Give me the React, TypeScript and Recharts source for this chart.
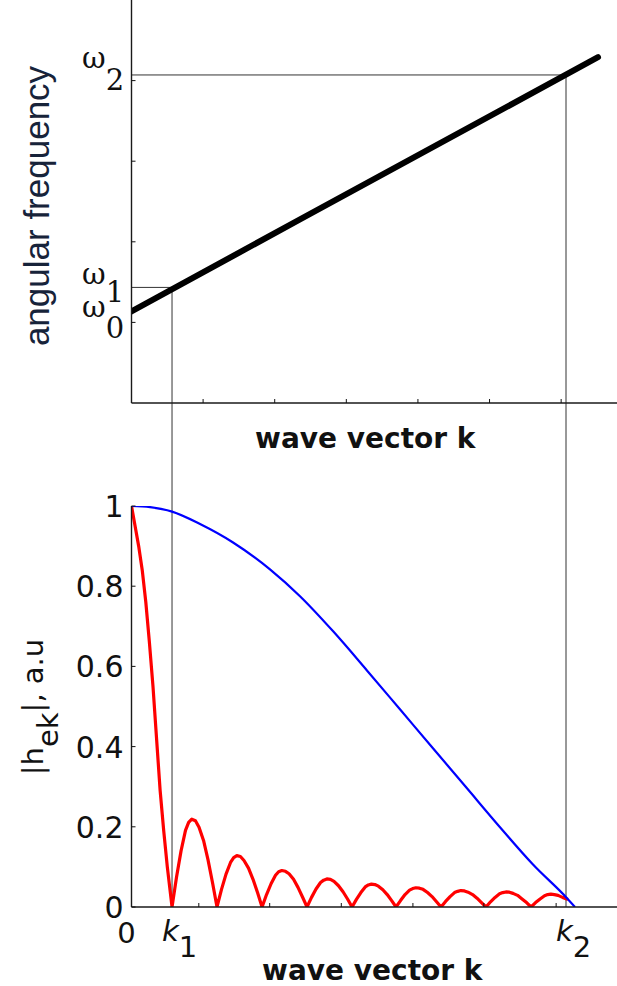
import { LineChart, Line, XAxis, YAxis, ReferenceLine, Label } from "recharts"

// upper panel: dispersion relation omega(k)
const dispersionK = [0, 2.353, 6.515]
const dispersionW = [0.136, 1.278, 3.29]

// marked wave vectors and frequencies
const K1 = 0.566
const K2 = 6.068
const OMEGA0 = 0.136
const OMEGA1 = 0.434
const OMEGA2 = 3.07

// lower panel, blue: |h_ek| for the long pulse
const blueK = [0, 0.26, 0.566, 0.957, 1.418, 1.934, 2.353, 2.813, 3.288, 3.749, 4.21, 4.685, 5.146, 5.607, 6.082, 6.193]
const blueH = [1.0, 0.997, 0.986, 0.955, 0.909, 0.842, 0.775, 0.688, 0.59, 0.493, 0.396, 0.296, 0.199, 0.106, 0.022, 0]

// lower panel, red: |h_ek| for the short pulse (main lobe + side lobes)
const redK = [
  0, 0.05, 0.1, 0.15, 0.2, 0.25, 0.3, 0.35, 0.4, 0.45, 0.5, 0.566,
  0.629, 0.692, 0.754, 0.798, 0.842, 0.893, 0.943, 1.006, 1.068, 1.131, 1.194,
  1.257, 1.32, 1.383, 1.427, 1.471, 1.521, 1.571, 1.634, 1.697, 1.76, 1.823,
  1.886, 1.949, 2.011, 2.055, 2.099, 2.15, 2.2, 2.263, 2.325, 2.388, 2.451,
  2.514, 2.577, 2.64, 2.684, 2.728, 2.778, 2.828, 2.891, 2.954, 3.017, 3.08,
  3.141, 3.203, 3.264, 3.307, 3.35, 3.399, 3.448, 3.51, 3.571, 3.633, 3.694,
  3.757, 3.82, 3.883, 3.927, 3.971, 4.021, 4.071, 4.134, 4.197, 4.26, 4.323,
  4.386, 4.449, 4.511, 4.555, 4.599, 4.65, 4.7, 4.763, 4.825, 4.888, 4.951,
  5.014, 5.077, 5.14, 5.184, 5.228, 5.278, 5.328, 5.391, 5.454, 5.517, 5.58,
  5.643, 5.706, 5.768, 5.812, 5.856, 5.906, 5.957, 6.02, 6.096,
]
const redH = [
  1.0, 0.95, 0.9, 0.84, 0.76, 0.66, 0.55, 0.42, 0.29, 0.19, 0.1, 0,
  0.075, 0.14, 0.191, 0.211, 0.219, 0.215, 0.199, 0.166, 0.118, 0.061, 0,
  0.044, 0.082, 0.111, 0.123, 0.128, 0.126, 0.116, 0.097, 0.069, 0.036, 0,
  0.031, 0.058, 0.079, 0.088, 0.091, 0.089, 0.083, 0.069, 0.049, 0.025, 0,
  0.024, 0.045, 0.061, 0.067, 0.07, 0.069, 0.064, 0.053, 0.038, 0.02, 0,
  0.019, 0.036, 0.05, 0.055, 0.057, 0.056, 0.052, 0.043, 0.031, 0.016, 0,
  0.016, 0.031, 0.042, 0.046, 0.048, 0.047, 0.044, 0.036, 0.026, 0.013, 0,
  0.014, 0.026, 0.036, 0.039, 0.041, 0.04, 0.037, 0.031, 0.022, 0.011, 0,
  0.013, 0.024, 0.033, 0.036, 0.0375, 0.037, 0.034, 0.029, 0.02, 0.011, 0,
  0.011, 0.02, 0.028, 0.031, 0.032, 0.031, 0.029, 0.024, 0.019,
]

const topTicksX = [1, 2, 3, 4, 5, 6]
const topTicksY = [0, 1, 2, 3]
const bottomTicksX = [0, 0.94, 1.93, 2.93, 3.93, 4.92, 5.93]
const bottomTicksY = [0, 0.2, 0.4, 0.6, 0.8, 1]

const dispersion = dispersionK.map((k, i) => ({ k, w: dispersionW[i] }))
const blue = blueK.map((k, i) => ({ k, h: blueH[i] }))
const red = redK.map((k, i) => ({ k, h: redH[i] }))

const INK = "#111"
const SANS = "'DejaVu Sans', sans-serif"
const SERIF = "'DejaVu Serif', serif"
const X_DOMAIN: [number, number] = [0, 6.78]
const axisLine = { stroke: "#1a1a1a", strokeWidth: 1.4 }

const MarkUp = ({ x, y }: any) => <line x1={x} y1={y} x2={x} y2={y - 4} stroke={INK} strokeWidth={1} />
const MarkDown = ({ x, y }: any) => <line x1={x} y1={y} x2={x} y2={y + 4} stroke={INK} strokeWidth={1} />
const MarkRight = ({ x, y }: any) => <line x1={x} y1={y} x2={x + 4} y2={y} stroke={INK} strokeWidth={1} />

const ValueTick = ({ x, y, payload }: any) => (
  <g>
    <line x1={x} y1={y} x2={x + 4} y2={y} stroke={INK} strokeWidth={1} />
    <text x={x - 8} y={y + 11} textAnchor="end" fontFamily={SANS} fontSize={30} fill={INK}>
      {String(payload.value)}
    </text>
  </g>
)

const KTick = ({ x, y, payload }: any) =>
  payload.value === 0 ? (
    <text x={x - 5} y={y + 36} textAnchor="middle" fontFamily={SANS} fontSize={29} fill={INK}>
      0
    </text>
  ) : (
    <MarkUp x={x} y={y} />
  )

const OmegaLabel = ({ viewBox, sub, dy, subDy }: any) => (
  <text x={82} y={viewBox.y + dy} fontFamily={SERIF} fontSize={29} fill={INK}>
    ω<tspan dy={subDy}>{sub}</tspan>
  </text>
)

const KLabel = ({ viewBox, sub }: any) => (
  <text x={viewBox.x - 10} y={viewBox.y + viewBox.height + 34} fontFamily={SANS} fontSize={29} fill={INK}>
    <tspan fontStyle="italic">k</tspan>
    <tspan dy={16}>{sub}</tspan>
  </text>
)

const AxisTitle = ({ viewBox, dx, dy }: any) => (
  <text
    x={viewBox.x + viewBox.width / 2 + dx}
    y={viewBox.y + dy}
    textAnchor="middle"
    fontFamily={SANS}
    fontWeight="bold"
    fontSize={28}
    fill={INK}
  >
    wave vector k
  </text>
)

export default function App() {
  return (
    <div style={{ position: "absolute", left: 0, top: 0, width: 617, height: 986, background: "#fff" }}>
      <LineChart width={617} height={470} margin={{ top: 0, right: 0, bottom: 0, left: 0.5 }} style={{ overflow: "hidden" }}>
        <XAxis
          type="number"
          dataKey="k"
          domain={X_DOMAIN}
          allowDataOverflow
          ticks={topTicksX}
          interval={0}
          height={67}
          tickSize={0}
          tickMargin={0}
          tick={MarkUp}
          axisLine={axisLine}
          tickLine={false}
        >
          <Label content={(p: any) => <AxisTitle {...p} dx={-9} dy={45} />} />
        </XAxis>
        <YAxis
          type="number"
          domain={[-1, 4]}
          allowDataOverflow
          ticks={topTicksY}
          interval={0}
          width={131}
          tickSize={0}
          tickMargin={0}
          tick={MarkRight}
          axisLine={axisLine}
          tickLine={false}
        >
          <Label
            content={() => (
              <text
                transform="translate(49,206) rotate(-90)"
                textAnchor="middle"
                fontFamily="'Liberation Sans', Arial, sans-serif"
                fontSize={35}
                fill="#17233a"
              >
                angular frequency
              </text>
            )}
          />
        </YAxis>
        <ReferenceLine
          segment={[{ x: 0, y: OMEGA2 }, { x: K2, y: OMEGA2 }]}
          stroke="#333"
          strokeWidth={1}
          ifOverflow="visible"
          label={(p: any) => <OmegaLabel {...p} sub="2" dy={-7} subDy={22} />}
        />
        <ReferenceLine
          segment={[{ x: 0, y: OMEGA1 }, { x: K1, y: OMEGA1 }]}
          stroke="#333"
          strokeWidth={1}
          ifOverflow="visible"
          label={(p: any) => <OmegaLabel {...p} sub="1" dy={-3} subDy={18} />}
        />
        <ReferenceLine
          y={OMEGA0}
          stroke="none"
          ifOverflow="visible"
          label={(p: any) => <OmegaLabel {...p} sub="0" dy={6} subDy={21} />}
        />
        <ReferenceLine segment={[{ x: K1, y: OMEGA1 }, { x: K1, y: -1.84 }]} stroke="#333" strokeWidth={1} ifOverflow="visible" />
        <ReferenceLine segment={[{ x: K2, y: OMEGA2 }, { x: K2, y: -1.84 }]} stroke="#333" strokeWidth={1} ifOverflow="visible" />
        <Line
          data={dispersion}
          dataKey="w"
          type="linear"
          stroke="#000"
          strokeWidth={6}
          strokeLinecap="round"
          dot={false}
          activeDot={false}
          isAnimationActive={false}
        />
      </LineChart>

      <LineChart width={617} height={516} margin={{ top: 36, right: 0, bottom: 0, left: 0.5 }} style={{ overflow: "hidden" }}>
        <XAxis
          type="number"
          dataKey="k"
          domain={X_DOMAIN}
          allowDataOverflow
          ticks={bottomTicksX}
          interval={0}
          height={79}
          tickSize={0}
          tickMargin={0}
          tick={KTick}
          axisLine={axisLine}
          tickLine={false}
        >
          <Label content={(p: any) => <AxisTitle {...p} dx={-2} dy={73} />} />
        </XAxis>
        <XAxis
          xAxisId="top"
          orientation="top"
          type="number"
          dataKey="k"
          domain={X_DOMAIN}
          allowDataOverflow
          ticks={bottomTicksX.slice(1)}
          interval={0}
          height={0}
          tickSize={0}
          tickMargin={0}
          tick={MarkDown}
          axisLine={axisLine}
          tickLine={false}
        />
        <YAxis
          type="number"
          domain={[0, 1]}
          allowDataOverflow
          ticks={bottomTicksY}
          interval={0}
          width={131}
          tickSize={0}
          tickMargin={0}
          tick={ValueTick}
          axisLine={axisLine}
          tickLine={false}
        >
          <Label
            content={() => (
              <text transform="translate(43,237) rotate(-90)" textAnchor="middle" fontFamily={SANS} fontSize={29} fill={INK}>
                |h<tspan dy={15}>ek</tspan>
                <tspan dy={-15}>|, a.u</tspan>
              </text>
            )}
          />
        </YAxis>
        <ReferenceLine
          segment={[{ x: K1, y: 1.1 }, { x: K1, y: 0 }]}
          stroke="#333"
          strokeWidth={1}
          ifOverflow="visible"
          label={(p: any) => <KLabel {...p} sub="1" />}
        />
        <ReferenceLine
          segment={[{ x: K2, y: 1.1 }, { x: K2, y: 0 }]}
          stroke="#333"
          strokeWidth={1}
          ifOverflow="visible"
          label={(p: any) => <KLabel {...p} sub="2" />}
        />
        <Line
          data={red}
          dataKey="h"
          type="linear"
          stroke="#ff0000"
          strokeWidth={3.2}
          strokeLinejoin="round"
          dot={false}
          activeDot={false}
          isAnimationActive={false}
        />
        <Line
          data={blue}
          dataKey="h"
          type="monotone"
          stroke="#0000ff"
          strokeWidth={2.2}
          dot={false}
          activeDot={false}
          isAnimationActive={false}
        />
      </LineChart>
    </div>
  )
}
